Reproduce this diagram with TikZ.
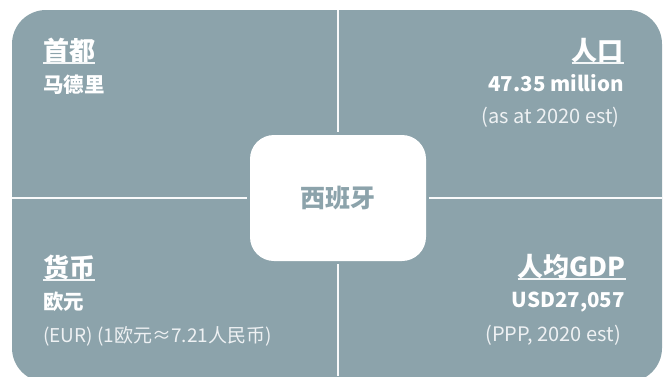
\documentclass[tikz,border=0pt]{standalone}
\usepackage{fontspec}
\setmainfont{Noto Sans CJK SC}
\definecolor{bg}{HTML}{8CA3AB}
\begin{document}
\begin{tikzpicture}[x=1pt,y=-1pt,
 head/.style={font=\fontsize{26}{30}\selectfont\bfseries, text=white, inner sep=0pt},
 sub/.style={font=\fontsize{20.5}{24}\selectfont\bfseries, text=white, inner sep=0pt},
 note/.style={font=\fontsize{20}{24}\selectfont, text=white!85!bg, inner sep=0pt},
 ul/.style={draw=white!90!bg, line width=1.5pt},
 divider/.style={draw=white!95!bg, line width=2pt},
 centerbox/.style={fill=white, rounded corners=24pt, minimum width=176pt, minimum height=126pt, inner sep=0pt, text=bg, font=\fontsize{25}{30}\selectfont\bfseries}]
\useasboundingbox (0,0) rectangle (668,376);
\begin{scope}
\clip (0,0) rectangle (668,376);
\fill[bg, rounded corners=34pt] (12,10) rectangle (662,382);
\end{scope}
\node[centerbox] (c) at (338,198) {西班牙};
\coordinate (t) at (337.5,10);
\coordinate (b) at (337.5,376);
\coordinate (l) at (12,198);
\coordinate (r) at (662,198);
\draw[divider] (t) -- ([yshift=3pt]c.north -| t);
\draw[divider] ([yshift=-3pt]c.south -| b) -- (b);
\draw[divider] (l) -- ([xshift=-3pt]c.west |- l);
\draw[divider] ([xshift=3pt]c.east |- r) -- (r);
% top left
\node[head, anchor=base west] (h1) at (43,60) {首都};
\draw[ul] ([yshift=-3pt]h1.base west) -- ([yshift=-3pt]h1.base east);
\node[sub, anchor=base west] (s1) at (43,92) {马德里};
% top right
\node[head, anchor=base east] (h2) at (624,60) {人口};
\draw[ul] ([yshift=-3pt]h2.base west) -- ([yshift=-3pt]h2.base east);
\node[sub, anchor=base east] (s2) at (624,91) {47.35 million};
\node[note, anchor=base east] (n2) at (619.5,123) {(as at 2020 est)};
% bottom left
\node[head, anchor=base west] (h3) at (43,277) {货币};
\draw[ul] ([yshift=-3pt]h3.base west) -- ([yshift=-3pt]h3.base east);
\node[sub, anchor=base west] (s3) at (43,309) {欧元};
\node[note, anchor=base west, font=\fontsize{19}{23}\selectfont] (n3) at (43,342) {(EUR) (1欧元≈7.21人民币)};
% bottom right
\node[head, anchor=base east] (h4) at (626,276) {人均GDP};
\draw[ul] ([yshift=-3pt]h4.base west) -- ([yshift=-3pt]h4.base east);
\node[sub, anchor=base east] (s4) at (625,307) {USD27,057};
\node[note, anchor=base east] (n4) at (621,341) {(PPP, 2020 est)};
\end{tikzpicture}
\end{document}
